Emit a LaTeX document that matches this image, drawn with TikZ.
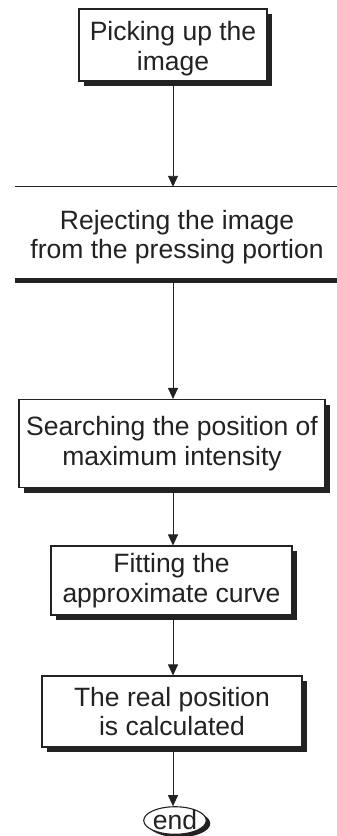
\documentclass[tikz,border=0pt]{standalone}
\usepackage{fontspec}
\setmainfont{Liberation Sans}
\usetikzlibrary{shadows,arrows.meta,shapes.geometric}
\definecolor{ink}{HTML}{222222}
\begin{document}
\begin{tikzpicture}[x=1pt,y=-1pt,
  lbl/.style={align=center, inner sep=0pt, text=ink, font=\fontsize{26.5}{29.5}\selectfont},
  box/.style={lbl, draw=ink, line width=1.1pt, fill=white,
    general shadow={shadow xshift=5pt, shadow yshift=-5pt, fill=ink}},
  conn/.style={draw=ink, line width=0.9pt, -{Triangle[length=11pt,width=10pt]}}]
\useasboundingbox[fill=white] (0,0) rectangle (337,836);
\node[box, minimum width=188pt, minimum height=72pt] (b1) at (173,45) {\rule{0pt}{26pt}Picking up the\\image};
\node[lbl, minimum width=324pt, minimum height=100pt] (b2) at (177,237) {Rejecting the image\\from the pressing portion};
\draw[ink, line width=1pt] (b2.north west) -- (b2.north east);
\draw[ink, line width=4.5pt] ([yshift=6.5pt]b2.south west) -- ([yshift=6.5pt]b2.south east);
\node[box, minimum width=306pt, minimum height=88pt] (b3) at (172,443.5) {Searching the position of\\maximum intensity};
\node[box, minimum width=241pt, minimum height=69pt] (b4) at (171.5,580.5) {Fitting the\\approximate curve};
\node[box, minimum width=260pt, minimum height=71pt] (b5) at (172,711.5) {The real position\\is calculated};
\node[lbl, ellipse, draw=ink, line width=1.1pt, fill=white, minimum width=60pt, minimum height=21pt,
  general shadow={shadow xshift=4pt, shadow yshift=-3pt, fill=ink}] (e) at (175,820.5) {end};
\coordinate (c2) at ([yshift=4.25pt]b1.south |- b2.south);
\draw[conn] (b1.south) -- (b1.south |- b2.north);
\draw[conn] (c2) -- (c2 |- b3.north);
\draw[conn] (c2 |- b3.south) -- (c2 |- b4.north);
\draw[conn] (c2 |- b4.south) -- (c2 |- b5.north);
\draw[conn] (c2 |- b5.south) -- (c2 |- e.north);
\end{tikzpicture}
\end{document}
